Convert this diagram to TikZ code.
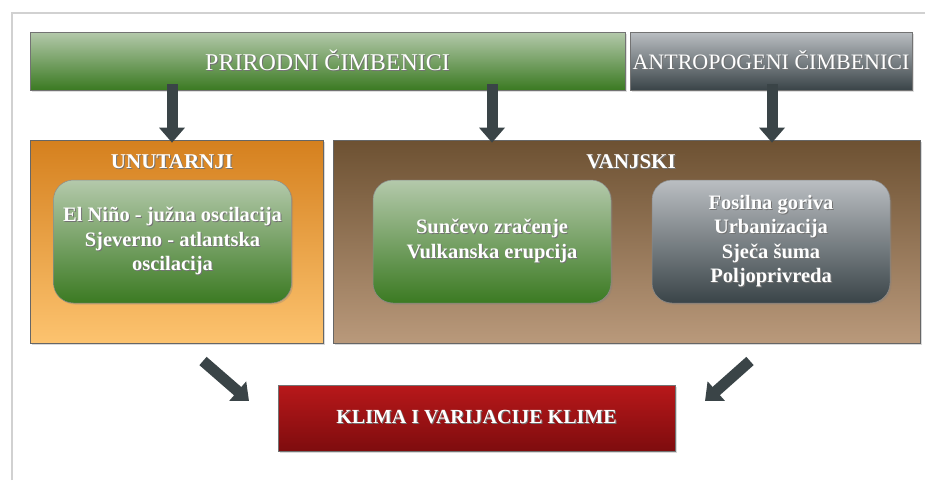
\documentclass[tikz,border=0pt]{standalone}
\usepackage{fontspec}
\setmainfont{Liberation Serif}
\usetikzlibrary{arrows.meta,shadows}
\definecolor{gtop}{HTML}{B4C9AB}
\definecolor{gbot}{HTML}{3B7A22}
\definecolor{stop}{HTML}{BABEC2}
\definecolor{sbot}{HTML}{3A4448}
\definecolor{otop}{HTML}{D5801E}
\definecolor{obot}{HTML}{FCC36F}
\definecolor{btop}{HTML}{6D5132}
\definecolor{bbot}{HTML}{B9997B}
\definecolor{rtop}{HTML}{B8181A}
\definecolor{rbot}{HTML}{7E0C0E}
\definecolor{arr}{HTML}{3A4447}
\newcommand\shtx[1]{\leavevmode\rlap{\kern1pt\raisebox{-1pt}{\color{black!55}#1}}#1}
\begin{document}
\begin{tikzpicture}[x=1pt,y=-1pt,
  bar/.style={draw=black!55, line width=0.6pt, inner sep=0pt, text=white,
    font=\fontsize{24}{28}\selectfont, drop shadow={opacity=0.25,shadow xshift=1.5pt,shadow yshift=-1.5pt}},
  panel/.style={draw=black!60, line width=0.7pt, inner sep=0pt,
    drop shadow={opacity=0.3,shadow xshift=1.5pt,shadow yshift=-1.5pt}},
  paneltitle/.style={text=white, font=\bfseries\fontsize{21}{24}\selectfont, inner sep=0pt},
  innerbox/.style={draw=black!45, line width=0.5pt, rounded corners=20pt, inner sep=2pt,
    minimum width=238pt, minimum height=123pt, align=center, text=white,
    font=\bfseries\fontsize{20.5}{24.5}\selectfont,
    drop shadow={opacity=0.3,shadow xshift=1.5pt,shadow yshift=-1.5pt}},
  greenfill/.style={top color=gtop, bottom color=gbot},
  grayfill/.style={top color=stop, bottom color=sbot},
  redbox/.style={draw=black!55, line width=0.6pt, top color=rtop, bottom color=rbot,
    text=white, font=\bfseries\fontsize{20}{24}\selectfont,
    drop shadow={opacity=0.3,shadow xshift=1.5pt,shadow yshift=-1.5pt}},
  bigarrow/.style={draw=arr, line width=11pt, -{Triangle[width=25pt,length=15pt]}}
]
\useasboundingbox (0,0) rectangle (925,480);
\fill[white] (0,0) rectangle (925,480);
\draw[black!18, line width=1.5pt] (12,480) -- (12,13) -- (925,13);

\node[bar, greenfill, minimum width=595pt, minimum height=58pt] (prir) at (327.5,61) {\shtx{PRIRODNI ČIMBENICI}};
\node[bar, grayfill, minimum width=282pt, minimum height=58pt,
  font=\fontsize{22}{26}\selectfont] (antr) at (771,61) {\shtx{ANTROPOGENI ČIMBENICI}};

\node[panel, top color=otop, bottom color=obot, minimum width=293pt, minimum height=203pt] (unut) at (176.5,241.5) {};
\node[paneltitle] (unutt) at (172,162) {\shtx{UNUTARNJI}};
\node[panel, top color=btop, bottom color=bbot, minimum width=587pt, minimum height=203pt] (vanj) at (626.5,241.5) {};
\node[paneltitle] (vanjt) at (631,162) {\shtx{VANJSKI}};

\node[innerbox, greenfill] (elnino) at (172.5,241.5) {\shtx{El Niño - južna oscilacija}\\\shtx{Sjeverno - atlantska}\\\shtx{oscilacija}};
\node[innerbox, greenfill] (sunce) at (492,241.5) {\shtx{Sunčevo zračenje}\\\shtx{Vulkanska erupcija}};
\node[innerbox, grayfill] (fosil) at (771,241.5) {\shtx{Fosilna goriva}\\\shtx{Urbanizacija}\\\shtx{Sječa šuma}\\\shtx{Poljoprivreda}};

\node[redbox, minimum width=397pt, minimum height=66pt] (klima) at (476.5,418) {\shtx{KLIMA I VARIJACIJE KLIME}};

\coordinate (a1s) at (172,84);
\coordinate (a2s) at (492,84);
\coordinate (a3s) at (772,84);
\draw[bigarrow] (a1s) -- ([yshift=-3pt]a1s |- unut.north);
\draw[bigarrow] (a2s) -- ([yshift=-3pt]a2s |- vanj.north);
\draw[bigarrow] (a3s) -- ([yshift=-3pt]a3s |- vanj.north);

\coordinate (d1s) at (203,361);
\coordinate (d1e) at (249,401);
\coordinate (d2s) at (750,361);
\coordinate (d2e) at (705,401);
\draw[bigarrow] (d1s) -- (d1e);
\draw[bigarrow] (d2s) -- (d2e);
\end{tikzpicture}
\end{document}
